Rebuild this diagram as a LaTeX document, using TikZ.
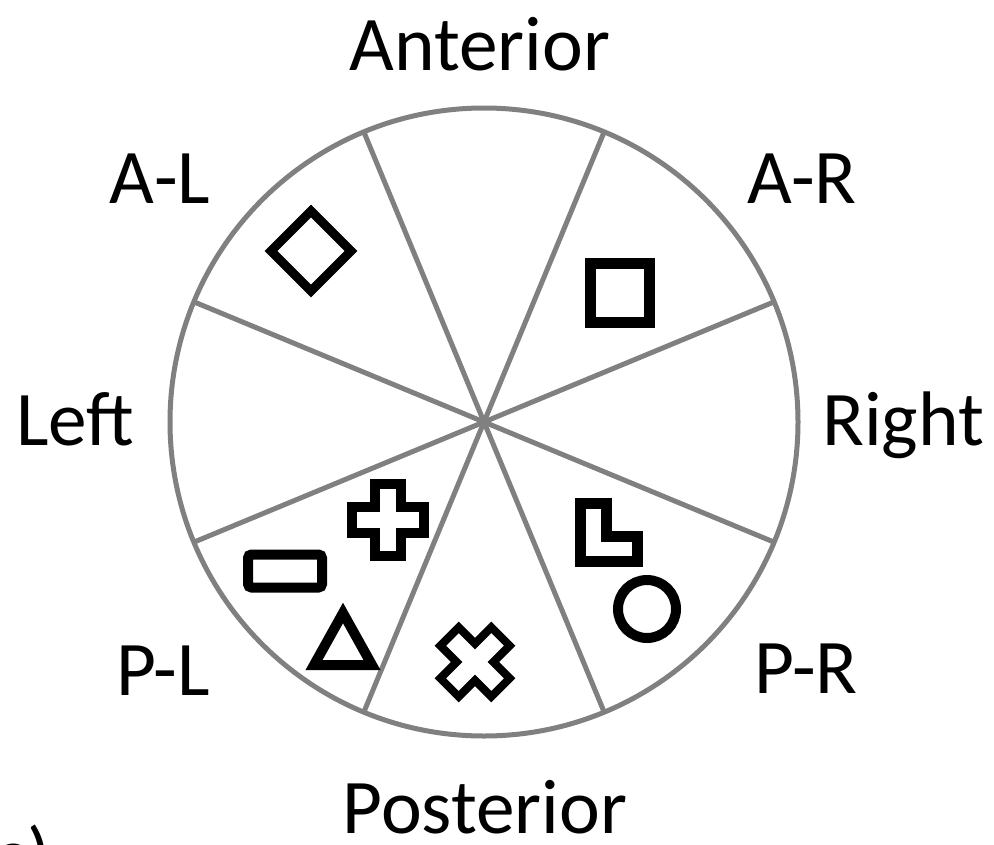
\documentclass[tikz,border=0pt]{standalone}
\usepackage{fontspec}
\setmainfont{Carlito}
\newcommand{\spoke}[1]{\draw[spokeline] (ctr) -- ++(#1:314)}
\newcommand{\crossmark}[3]{\draw[shapeline,line width=#3, shift={(#1)}, rotate=#2]
	(13,36) -- (13,13) -- (36,13) -- (36,-13) -- (13,-13) -- (13,-36)
	-- (-13,-36) -- (-13,-13) -- (-36,-13) -- (-36,13) -- (-13,13) -- (-13,36) -- cycle}

\begin{document}
\begin{tikzpicture}[x=0.02cm,y=-0.02cm,
	spokeline/.style={draw=black!50,line width=0.1cm},
	shapeline/.style={draw=black,line width=0.2cm},
	lbl/.style={font=\fontsize{44}{50}\selectfont,inner sep=0,anchor=base}]
\useasboundingbox (0,0) rectangle (994,845);
\coordinate (ctr) at (484,422);
\draw[spokeline] (ctr) circle (314);
\foreach \a in {22.5,67.5,...,337.5}
	\spoke{\a};
%
\node[lbl] (ant) at (480,70) {Anterior};
\node[lbl] (al) at (160,203) {A-L};
\node[lbl] (ar) at (802,203) {A-R};
\node[lbl] (lft) at (75,445) {Left};
\node[lbl] (rgt) at (903,445) {Right};
\node[lbl] (pl) at (163,695) {P-L};
\node[lbl] (pr) at (806,693) {P-R};
\node[lbl] (post) at (485,833) {Posterior};
\node[lbl,anchor=base west] (tag) at (-6,881) {c)};
%
\draw[shapeline,line width=0.18cm] (311,211) -- (351,251) -- (311,291) -- (271,251) -- cycle;
\draw[shapeline,line width=0.22cm] (590.5,263.5) rectangle (649.5,322.5);
\draw[shapeline,line width=0.22cm] (580,503) -- (606,503) -- (606,536) -- (637,536) -- (637,561) -- (580,561) -- cycle;
\draw[shapeline] (647,609) circle (29);
\draw[shapeline,rounded corners=2pt] (248,554.5) rectangle (322,587.5);
\draw[shapeline] (343,613) -- (372,665) -- (314,665) -- cycle;
\crossmark{388,520}{0}{0.2cm};
\crossmark{475,662}{45}{0.16cm};
\end{tikzpicture}
\end{document}
